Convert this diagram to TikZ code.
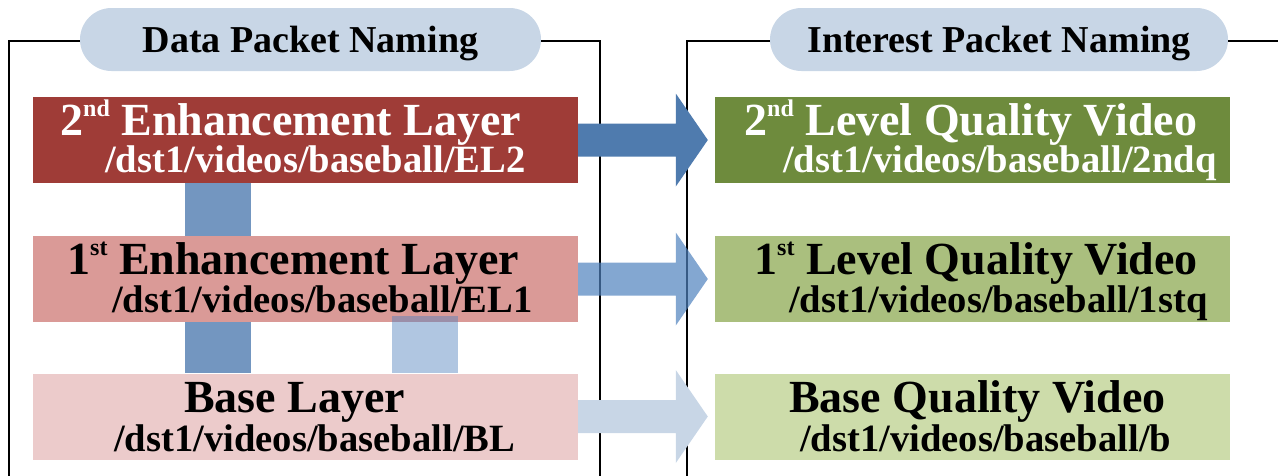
\documentclass[tikz,border=0pt]{standalone}
\usepackage{fontspec}
\setmainfont{Liberation Serif}
\usetikzlibrary{calc}
\definecolor{redA}{HTML}{9F3C37}
\definecolor{redB}{HTML}{DA9A97}
\definecolor{redC}{HTML}{ECCBCB}
\definecolor{grnA}{HTML}{6E8B3D}
\definecolor{grnB}{HTML}{AABF7E}
\definecolor{grnC}{HTML}{CDDCAA}
\definecolor{pillC}{HTML}{C8D6E6}
\definecolor{blueA}{HTML}{4F7BAE}
\definecolor{blueB}{HTML}{4F81BD}
\definecolor{blueC}{HTML}{C8D6E6}
\definecolor{blueD}{HTML}{7396C0}
\newcommand\blkarrow[3]{\fill[#3] ($(#1.east)+(0,-16.5)$) -- ($(#2.west)+(-39,-16.5)$) -- ($(#2.west)+(-39,-46.5)$) -- ($(#2.west)+(-7,0)$) -- ($(#2.west)+(-39,46.5)$) -- ($(#2.west)+(-39,16.5)$) -- ($(#1.east)+(0,16.5)$) -- cycle;}
\newcommand\supx[1]{\raisebox{19pt}{\fontsize{24}{24}\selectfont #1}}
\begin{document}
\begin{tikzpicture}[x=1pt,y=-1pt,
 frame/.style={draw=black,line width=2.2pt},
 pill/.style={fill=pillC,rounded corners=31.5pt,minimum width=461pt,minimum height=63pt,inner sep=0pt,text height=25pt,text depth=0pt,font=\fontsize{38}{38}\selectfont\bfseries},
 lbox/.style={minimum width=545pt,minimum height=86pt,inner sep=0pt},
 rbox/.style={minimum width=515pt,minimum height=86pt,inner sep=0pt},
 big/.style={anchor=base west,inner sep=0pt,font=\fontsize{46}{46}\selectfont\bfseries},
 pth/.style={anchor=base west,inner sep=0pt,font=\fontsize{38.6}{38.6}\selectfont\bfseries},
]
\useasboundingbox (0,0) rectangle (1278,475);
% frames
\draw[frame] (9,477) -- (9,41) -- (600,41) -- (600,477);
\draw[frame] (687,477) -- (687,41) -- (1280,41);
% pills
\node[pill] (dpn) at (310.5,39.5) {Data Packet Naming};
\node[pill,minimum width=458pt] (ipn) at (999,39.5) {Interest Packet Naming};
% left boxes
\node[lbox,fill=redA] (el2) at (305.5,140) {};
\node[lbox,fill=redB] (el1) at (305.5,279) {};
\node[lbox,fill=redC] (bl) at (305.5,416.5) {};
% right boxes
\node[rbox,fill=grnA] (q2) at (972.5,140) {};
\node[rbox,fill=grnB] (q1) at (972.5,279) {};
\node[rbox,fill=grnC] (qb) at (972.5,416.5) {};
% dependency bars
\fill[blueD] ($(el2.south west)+(152,0)$) rectangle ($(el1.north west)+(218,0)$);
\fill[blueD] ($(el1.south west)+(152,0)$) rectangle ($(bl.north west)+(218,0)$);
\fill[blueB,opacity=0.45] ($(el1.south west)+(359,-6)$) rectangle ($(bl.north west)+(425,0)$);
% arrows
\blkarrow{el2}{q2}{blueA}
\blkarrow{el1}{q1}{blueB,opacity=0.7}
\blkarrow{bl}{qb}{blueC}
% texts
\node[big,text=white] (el2a) at (60,135) {2\supx{nd} Enhancement Layer};
\node[pth,text=white] (el2b) at (105,172) {/dst1/videos/baseball/EL2};
\node[big] (el1a) at (67,274) {1\supx{st} Enhancement Layer};
\node[pth] (el1b) at (112,312) {/dst1/videos/baseball/EL1};
\node[big] (bla) at (184,412) {Base Layer};
\node[pth] (blb) at (114,451) {/dst1/videos/baseball/BL};
\node[big,text=white] (q2a) at (744,135) {2\supx{nd} Level Quality Video};
\node[pth,text=white] (q2b) at (783,172) {/dst1/videos/baseball/2ndq};
\node[big] (q1a) at (754,274) {1\supx{st} Level Quality Video};
\node[pth] (q1b) at (789,312) {/dst1/videos/baseball/1stq};
\node[big] (qba) at (789,412) {Base Quality Video};
\node[pth] (qbb) at (800,451) {/dst1/videos/baseball/b};
\end{tikzpicture}
\end{document}
